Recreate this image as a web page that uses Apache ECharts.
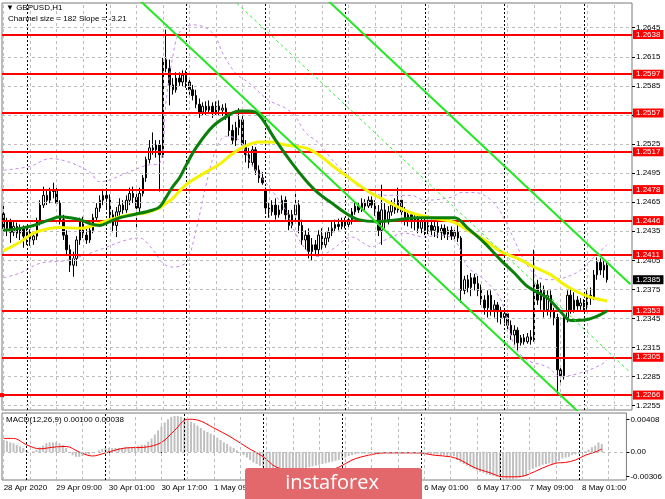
<!DOCTYPE html>
<html><head><meta charset="utf-8">
<script src="https://cdn.jsdelivr.net/npm/echarts@6/dist/echarts.min.js"></script>
<style>html,body{margin:0;padding:0;background:#fff}#c{width:665px;height:499px}</style>
</head><body><div id="c"></div>
<script>
// ---- categories (hourly bars, weekend skipped) ----
const dayList = ['28 Apr','29 Apr','30 Apr','1 May','4 May','5 May','6 May','7 May','8 May'];
const dayFirstHour = [17,0,0,0,0,0,0,0,0];
const dayLastHour  = [23,23,23,23,23,23,23,23,14];

// ---- candles ----
const opens = [1.2453,1.2438,1.2445,1.2434,1.2440,1.2433,1.2438,1.2430,1.2434,1.2426,
1.2430,1.2445,1.2462,1.2472,1.2467,1.2476,1.2478,1.2464,1.2447,1.2431,
1.2416,1.2400,1.2407,1.2426,1.2445,1.2431,1.2426,1.2436,1.2449,1.2459,
1.2467,1.2472,1.2469,1.2452,1.2441,1.2455,1.2462,1.2457,1.2467,1.2474,
1.2470,1.2459,1.2474,1.2490,1.2509,1.2521,1.2519,1.2524,1.2514,1.2612,
1.2603,1.2586,1.2581,1.2593,1.2589,1.2596,1.2589,1.2581,1.2575,1.2566,
1.2558,1.2564,1.2560,1.2564,1.2558,1.2564,1.2560,1.2562,1.2555,1.2539,
1.2529,1.2542,1.2550,1.2524,1.2514,1.2506,1.2519,1.2498,1.2490,1.2478,
1.2459,1.2455,1.2462,1.2452,1.2457,1.2467,1.2452,1.2441,1.2452,1.2462,
1.2441,1.2426,1.2431,1.2414,1.2421,1.2416,1.2431,1.2421,1.2428,1.2434,
1.2438,1.2442,1.2440,1.2445,1.2442,1.2447,1.2455,1.2461,1.2457,1.2464,
1.2461,1.2467,1.2462,1.2455,1.2436,1.2457,1.2447,1.2455,1.2462,1.2457,
1.2467,1.2455,1.2447,1.2452,1.2445,1.2449,1.2438,1.2445,1.2436,1.2441,
1.2436,1.2440,1.2434,1.2438,1.2432,1.2436,1.2430,1.2434,1.2428,1.2374,
1.2385,1.2377,1.2387,1.2381,1.2374,1.2364,1.2356,1.2369,1.2354,1.2359,
1.2352,1.2346,1.2350,1.2338,1.2328,1.2333,1.2320,1.2325,1.2321,1.2326,
1.2323,1.2380,1.2364,1.2374,1.2354,1.2369,1.2352,1.2346,1.2292,1.2286,
1.2346,1.2369,1.2354,1.2364,1.2358,1.2361,1.2357,1.2369,1.2366,1.2390,
1.2403,1.2395,1.2400];
const closes = [1.2438,1.2445,1.2434,1.2440,1.2433,1.2438,1.2430,1.2434,1.2426,1.2430,
1.2445,1.2462,1.2472,1.2467,1.2476,1.2478,1.2464,1.2447,1.2431,1.2416,
1.2400,1.2407,1.2426,1.2445,1.2431,1.2426,1.2436,1.2449,1.2459,1.2467,
1.2472,1.2469,1.2452,1.2441,1.2455,1.2462,1.2457,1.2467,1.2474,1.2470,
1.2459,1.2474,1.2490,1.2509,1.2521,1.2519,1.2524,1.2514,1.2612,1.2603,
1.2586,1.2581,1.2593,1.2589,1.2596,1.2589,1.2581,1.2575,1.2566,1.2558,
1.2564,1.2560,1.2564,1.2558,1.2564,1.2560,1.2562,1.2555,1.2539,1.2529,
1.2542,1.2550,1.2524,1.2514,1.2506,1.2519,1.2498,1.2490,1.2485,1.2459,
1.2455,1.2462,1.2452,1.2457,1.2467,1.2452,1.2441,1.2452,1.2462,1.2441,
1.2426,1.2431,1.2414,1.2421,1.2416,1.2431,1.2421,1.2428,1.2434,1.2438,
1.2442,1.2440,1.2445,1.2442,1.2447,1.2455,1.2461,1.2457,1.2464,1.2461,
1.2467,1.2462,1.2455,1.2436,1.2457,1.2447,1.2455,1.2462,1.2457,1.2467,
1.2455,1.2447,1.2452,1.2445,1.2449,1.2438,1.2445,1.2436,1.2441,1.2436,
1.2440,1.2434,1.2438,1.2432,1.2436,1.2430,1.2434,1.2428,1.2374,1.2385,
1.2377,1.2387,1.2381,1.2374,1.2364,1.2356,1.2369,1.2354,1.2359,1.2352,
1.2346,1.2350,1.2338,1.2328,1.2333,1.2320,1.2325,1.2321,1.2326,1.2323,
1.2380,1.2364,1.2374,1.2354,1.2369,1.2352,1.2346,1.2292,1.2286,1.2346,
1.2369,1.2354,1.2364,1.2358,1.2361,1.2357,1.2369,1.2366,1.2390,1.2403,
1.2395,1.2400,1.2385];
const highs = [1.2462,1.2449,1.2448,1.2445,1.2444,1.2442,1.2441,1.2438,1.2437,1.2434,
1.2449,1.2467,1.2481,1.2478,1.2480,1.2485,1.2482,1.2467,1.2452,1.2436,
1.2421,1.2414,1.2430,1.2449,1.2450,1.2438,1.2440,1.2453,1.2464,1.2472,
1.2478,1.2479,1.2473,1.2457,1.2460,1.2469,1.2467,1.2472,1.2480,1.2481,
1.2478,1.2480,1.2493,1.2512,1.2529,1.2537,1.2529,1.2529,1.2614,1.2643,
1.2612,1.2593,1.2599,1.2599,1.2601,1.2601,1.2593,1.2586,1.2581,1.2572,
1.2568,1.2569,1.2570,1.2568,1.2569,1.2570,1.2566,1.2567,1.2558,1.2545,
1.2548,1.2562,1.2555,1.2529,1.2521,1.2523,1.2522,1.2503,1.2496,1.2480,
1.2464,1.2467,1.2469,1.2462,1.2472,1.2471,1.2457,1.2457,1.2474,1.2467,
1.2447,1.2436,1.2438,1.2428,1.2426,1.2436,1.2438,1.2434,1.2439,1.2445,
1.2447,1.2448,1.2449,1.2449,1.2451,1.2459,1.2465,1.2464,1.2469,1.2468,
1.2471,1.2471,1.2467,1.2462,1.2483,1.2464,1.2461,1.2467,1.2469,1.2480,
1.2471,1.2460,1.2457,1.2455,1.2453,1.2453,1.2449,1.2449,1.2447,1.2447,
1.2445,1.2445,1.2442,1.2442,1.2440,1.2440,1.2438,1.2449,1.2430,1.2389,
1.2390,1.2392,1.2391,1.2389,1.2380,1.2369,1.2374,1.2374,1.2364,1.2362,
1.2357,1.2354,1.2354,1.2343,1.2338,1.2336,1.2328,1.2329,1.2330,1.2333,
1.2416,1.2385,1.2382,1.2379,1.2374,1.2374,1.2356,1.2350,1.2297,1.2349,
1.2374,1.2376,1.2372,1.2368,1.2366,1.2365,1.2374,1.2377,1.2395,1.2408,
1.2407,1.2406,1.2403];
const lows = [1.2434,1.2430,1.2423,1.2430,1.2428,1.2426,1.2418,1.2421,1.2420,1.2421,
1.2426,1.2441,1.2459,1.2462,1.2464,1.2469,1.2461,1.2442,1.2426,1.2410,
1.2393,1.2388,1.2399,1.2421,1.2428,1.2422,1.2423,1.2433,1.2446,1.2455,
1.2462,1.2457,1.2445,1.2434,1.2429,1.2451,1.2453,1.2454,1.2462,1.2464,
1.2439,1.2455,1.2471,1.2486,1.2505,1.2514,1.2511,1.2476,1.2511,1.2599,
1.2565,1.2576,1.2578,1.2585,1.2584,1.2583,1.2576,1.2570,1.2562,1.2552,
1.2554,1.2555,1.2556,1.2552,1.2555,1.2555,1.2554,1.2550,1.2533,1.2524,
1.2523,1.2534,1.2519,1.2506,1.2500,1.2502,1.2493,1.2485,1.2483,1.2455,
1.2449,1.2451,1.2447,1.2449,1.2453,1.2447,1.2436,1.2438,1.2445,1.2433,
1.2421,1.2416,1.2407,1.2405,1.2410,1.2409,1.2416,1.2418,1.2424,1.2430,
1.2434,1.2436,1.2437,1.2438,1.2439,1.2442,1.2452,1.2454,1.2455,1.2457,
1.2459,1.2459,1.2451,1.2430,1.2421,1.2438,1.2442,1.2451,1.2453,1.2454,
1.2451,1.2441,1.2440,1.2438,1.2436,1.2433,1.2433,1.2431,1.2432,1.2431,
1.2429,1.2428,1.2426,1.2428,1.2426,1.2426,1.2424,1.2424,1.2361,1.2370,
1.2372,1.2368,1.2374,1.2368,1.2359,1.2349,1.2346,1.2348,1.2346,1.2341,
1.2339,1.2340,1.2333,1.2323,1.2318,1.2312,1.2317,1.2318,1.2319,1.2318,
1.2321,1.2359,1.2354,1.2346,1.2348,1.2346,1.2338,1.2267,1.2279,1.2282,
1.2341,1.2350,1.2351,1.2354,1.2354,1.2352,1.2354,1.2359,1.2364,1.2385,
1.2390,1.2387,1.2382];

// ---- moving averages / bands: [bar index, price] ----
const yellowMA = [[0,1.2415],[5,1.2424],[9,1.2433],[14,1.2438],[17,1.2439],[23,1.2438],[27,1.2441],[32,1.2447],[38,1.2452],[43,1.2454],[47,1.2459],[49,1.2464],[51,1.2469],[55,1.2483],[61,1.2496],[65,1.2504],[69,1.2515],[73,1.2523],[77,1.2527],[81,1.2527],[85,1.2524],[91,1.2521],[95,1.2514],[99,1.2503],[103,1.2493],[107,1.2483],[111,1.2474],[115,1.2467],[119,1.2460],[123,1.2454],[129,1.2449],[136,1.2444],[140,1.2436],[145,1.2426],[150,1.2414],[155,1.2407],[160,1.2398],[165,1.2390],[170,1.2378],[176,1.2368],[182,1.2363]];
const greenMA = [[0,1.2436],[5,1.2438],[9,1.2441],[14,1.2447],[17,1.2450],[20,1.2449],[23,1.2447],[26,1.2443],[29,1.2441],[32,1.2445],[35,1.2449],[39,1.2452],[45,1.2457],[47,1.2460],[49,1.2470],[51,1.2481],[53,1.2490],[55,1.2503],[58,1.2521],[63,1.2543],[68,1.2555],[71,1.2559],[74,1.2559],[77,1.2555],[82,1.2529],[87,1.2505],[91,1.2488],[95,1.2474],[99,1.2464],[103,1.2454],[107,1.2447],[113,1.2445],[119,1.2447],[125,1.2449],[131,1.2449],[136,1.2449],[140,1.2438],[145,1.2423],[150,1.2405],[154,1.2392],[158,1.2378],[164,1.2366],[168,1.2352],[171,1.2343],[176,1.2344],[180,1.2349],[182,1.2353]];
const upperBand = [[0,1.2498],[8,1.2502],[14,1.2510],[20,1.2506],[26,1.2496],[29,1.2486],[37,1.2495],[43,1.2503],[47,1.2505],[49,1.2570],[51,1.2615],[53,1.2640],[57,1.2648],[61,1.2645],[64,1.2635],[66,1.2619],[70,1.2598],[74,1.2588],[80,1.2570],[85,1.2562],[88,1.2553],[91,1.2537],[95,1.2526],[99,1.2509],[103,1.2495],[107,1.2481],[111,1.2474],[117,1.2472],[123,1.2472],[127,1.2467],[135,1.2470],[138,1.2475],[142,1.2475],[146,1.2470],[150,1.2454],[154,1.2426],[157,1.2405],[161,1.2388],[165,1.2385],[170,1.2388],[174,1.2395],[177,1.2405],[182,1.2421]];
const lowerBand = [[0,1.2387],[5,1.2392],[11,1.2402],[19,1.2405],[29,1.2416],[37,1.2426],[41,1.2428],[45,1.2416],[48,1.2402],[51,1.2398],[55,1.2403],[58,1.2436],[61,1.2482],[64,1.2519],[67,1.2533],[71,1.2529],[75,1.2503],[80,1.2481],[85,1.2457],[88,1.2433],[92,1.2413],[95,1.2409],[99,1.2416],[105,1.2429],[111,1.2419],[115,1.2426],[121,1.2433],[127,1.2429],[131,1.2431],[136,1.2426],[140,1.2398],[145,1.2385],[150,1.2364],[154,1.2317],[158,1.2302],[164,1.2295],[168,1.2285],[174,1.2289],[180,1.2297],[182,1.2302]];

// ---- regression channel (anchors of the middle line, half width) ----
const channelStart = [40, 1.27676];
const channelEnd = [189, 1.22893];
const channelHalf = 0.0091;

// ---- horizontal levels and price axis ----
const levels = [1.2638,1.2597,1.2557,1.2517,1.2478,1.2446,1.2411,1.2353,1.2305,1.2266];
const selectedLevel = 1.2266;
const lastPrice = 1.2385;
const priceTicks = [1.2255,1.2285,1.2315,1.2345,1.2375,1.2405,1.2435,1.2465,1.2495,1.2525,1.2555,1.2585,1.2615,1.2645];

// ---- MACD(12,26,9) ----
const macdMain = [0.0015,0.0014,0.0012,0.0011,0.0009,0.0007,0.0005,0.0002,0.0000,0.0001,
0.0003,0.0006,0.0008,0.0011,0.0012,0.0012,0.0012,0.0011,0.0009,0.0005,
0.0000,-0.0004,-0.0006,-0.0006,-0.0005,-0.0004,-0.0003,-0.0001,0.0000,0.0002,
0.0004,0.0005,0.0005,0.0005,0.0005,0.0005,0.0005,0.0006,0.0006,0.0006,
0.0007,0.0008,0.0009,0.0009,0.0013,0.0017,0.0022,0.0027,0.0032,0.0037,
0.0041,0.0044,0.0045,0.0045,0.0044,0.0042,0.0040,0.0038,0.0036,0.0033,
0.0030,0.0027,0.0025,0.0023,0.0021,0.0018,0.0015,0.0012,0.0010,0.0007,
0.0005,0.0002,-0.0001,-0.0004,-0.0007,-0.0010,-0.0013,-0.0015,-0.0017,-0.0019,
-0.0020,-0.0020,-0.0020,-0.0021,-0.0021,-0.0021,-0.0021,-0.0021,-0.0021,-0.0021,
-0.0020,-0.0020,-0.0020,-0.0019,-0.0018,-0.0017,-0.0016,-0.0015,-0.0014,-0.0013,
-0.0012,-0.0011,-0.0010,-0.0008,-0.0007,-0.0005,-0.0004,-0.0003,-0.0002,-0.0002,
-0.0002,-0.0002,-0.0002,-0.0002,-0.0002,-0.0002,-0.0002,-0.0002,-0.0002,-0.0002,
-0.0002,-0.0002,-0.0002,-0.0002,-0.0002,-0.0002,-0.0002,-0.0002,-0.0002,-0.0003,
-0.0003,-0.0003,-0.0003,-0.0004,-0.0004,-0.0005,-0.0005,-0.0005,-0.0010,-0.0013,
-0.0015,-0.0017,-0.0019,-0.0021,-0.0023,-0.0025,-0.0026,-0.0028,-0.0029,-0.0030,
-0.0031,-0.0032,-0.0033,-0.0034,-0.0034,-0.0034,-0.0033,-0.0032,-0.0031,-0.0030,
-0.0023,-0.0021,-0.0019,-0.0018,-0.0016,-0.0015,-0.0014,-0.0015,-0.0014,-0.0011,
-0.0008,-0.0007,-0.0006,-0.0004,-0.0003,-0.0002,-0.0001,0.0001,0.0003,0.0006,
0.0008,0.0012,0.0010];
const macdSignal = [[0,0.0017],[3,0.0017],[7,0.0009],[11,0.0004],[15,0.0006],[19,0.0007],[23,0.0000],[27,-0.0005],[31,-0.0001],[37,0.0005],[43,0.0006],[48,0.0012],[52,0.0027],[56,0.0041],[59,0.0040],[64,0.0030],[69,0.0019],[74,0.0006],[79,-0.0006],[83,-0.0019],[89,-0.0023],[98,-0.0023],[102,-0.0019],[106,-0.0010],[111,-0.0004],[116,-0.0001],[121,-0.0001],[126,-0.0001],[131,-0.0004],[136,-0.0006],[139,-0.0010],[143,-0.0019],[148,-0.0026],[152,-0.0031],[156,-0.0031],[159,-0.0029],[164,-0.0020],[168,-0.0014],[171,-0.0013],[174,-0.0010],[177,-0.0004],[180,0.0000],[182,0.00038]];
const macdTicks = [0.00408, 0, -0.00306];

// ---------- build ----------
const cats = [];
dayList.forEach((d,k)=>{ for(let h=dayFirstHour[k]; h<=dayLastHour[k]; h++) cats.push(d+' '+String(h).padStart(2,'0')+':00'); });
const sepIdx = cats.map((c,i)=>c.endsWith(' 00:00') ? i : -1).filter(i=>i>=0);
const gridIdx = cats.map((c,i)=>i).filter(i=>i%8===0);
const candleData = opens.map((o,i)=>[o, closes[i], lows[i], highs[i]]);
const FONT = "'Liberation Sans', Arial, sans-serif";
const GRID_GRAY = '#bdbdbd';

function vLines(xi, yi){
  return [
    {type:'line', xAxisIndex:xi, yAxisIndex:yi, data:[], silent:true, z:1,
     markLine:{silent:true, symbol:'none', label:{show:false}, animation:false, precision:0,
       lineStyle:{color:GRID_GRAY, type:[3,3], width:1},
       data: gridIdx.map(i=>({xAxis:i}))}},
    {type:'line', xAxisIndex:xi, yAxisIndex:yi, data:[], silent:true, z:1,
     markLine:{silent:true, symbol:'none', label:{show:false}, animation:false, precision:0,
       lineStyle:{color:'#000', type:[2,2], width:1},
       data: sepIdx.map(i=>({xAxis:i}))}}
  ];
}
function chanLine(off, dashed){
  return {type:'line', xAxisIndex:0, yAxisIndex:0, symbol:'none', silent:true, z:6, clip:true,
    lineStyle: dashed ? {color:'#33ee33', width:1, type:[3,3]} : {color:'#22e822', width:2},
    data:[[channelStart[0], channelStart[1]+off],[channelEnd[0], channelEnd[1]+off]]};
}
function ind(data, color, width, dashed, z){
  return {type:'line', xAxisIndex:0, yAxisIndex:0, symbol:'none', silent:true, smooth:0.35, z:z,
    lineStyle:{color:color, width:width, type: dashed ? [3,3] : 'solid'}, data:data};
}

const option = {
  animation:false,
  backgroundColor:'#ffffff',
  textStyle:{fontFamily:FONT},
  grid:[
    {left:2, top:3, width:630, height:407, show:true, borderColor:'#7a7a7a', borderWidth:1},
    {left:2, top:413, width:630, height:67, show:true, borderColor:'#7a7a7a', borderWidth:1}
  ],
  xAxis:[
    {type:'category', gridIndex:0, data:cats, boundaryGap:true,
     axisLine:{show:false}, axisTick:{show:false}, axisLabel:{show:false}, splitLine:{show:false}},
    {type:'category', gridIndex:1, data:cats, boundaryGap:true,
     axisLine:{show:false},
     axisTick:{show:true, alignWithLabel:true, length:3, interval:(i)=>i%16===0, lineStyle:{color:'#000'}},
     axisLabel:{show:true, interval:(i)=>i%16===0, align:'left', margin:4, fontSize:8, color:'#000', fontFamily:FONT,
       formatter:(v,i)=> i===0 ? '28 Apr 2020' : v},
     splitLine:{show:false}}
  ],
  yAxis:[
    {type:'value', gridIndex:0, position:'right', min:1.22506, max:1.26705, scale:true,
     axisLine:{show:false},
     axisTick:{show:true, length:3, customValues:priceTicks, lineStyle:{color:'#000'}},
     axisLabel:{show:true, customValues:priceTicks, margin:4, fontSize:8, color:'#000', fontFamily:FONT,
       formatter:v=>v.toFixed(4)},
     splitLine:{show:false}},
    {type:'value', gridIndex:1, position:'right', min:-0.0035, max:0.00488,
     axisLine:{show:false},
     axisTick:{show:true, length:3, customValues:macdTicks, lineStyle:{color:'#000'}},
     axisLabel:{show:true, customValues:macdTicks, margin:4, fontSize:8, color:'#000', fontFamily:FONT,
       formatter:v=> v===0 ? '0.00' : v.toFixed(5)},
     splitLine:{show:false}}
  ],
  series:[
    ...vLines(0,0), ...vLines(1,1),
    {type:'line', xAxisIndex:0, yAxisIndex:0, data:[], silent:true, z:1,
     markLine:{silent:true, symbol:'none', label:{show:false}, animation:false, precision:5,
       lineStyle:{color:GRID_GRAY, type:[3,3], width:1},
       data: priceTicks.map(v=>({yAxis:v}))}},
    {type:'candlestick', xAxisIndex:0, yAxisIndex:0, data:candleData, barWidth:2, z:3, silent:true,
     itemStyle:{color:'#ffffff', color0:'#000000', borderColor:'#000000', borderColor0:'#000000', borderWidth:1}},
    ind(upperBand,'#c68ae8',1,true,4),
    ind(lowerBand,'#c68ae8',1,true,4),
    ind(yellowMA,'#f4f400',3,false,5),
    ind(greenMA,'#0a7f0a',3,false,5),
    chanLine(channelHalf,false), chanLine(0,true), chanLine(-channelHalf,false),
    {type:'line', xAxisIndex:0, yAxisIndex:0, data:[], silent:true, z:7,
     markLine:{silent:true, symbol:'none', animation:false, precision:4,
       lineStyle:{color:'#ff0000', width:2, type:'solid'},
       label:{show:true, position:'end', distance:1, formatter:p=>Number(p.value).toFixed(4),
         backgroundColor:'#ff0000', color:'#ffffff', fontSize:8, fontFamily:FONT, padding:[1,3,0,3]},
       data: levels.map(v=> v===selectedLevel ? {yAxis:v, symbol:['emptyRect','emptyRect'], symbolSize:4} : {yAxis:v})}},
    {type:'line', xAxisIndex:0, yAxisIndex:0, data:[], silent:true, z:8,
     markLine:{silent:true, symbol:'none', animation:false, precision:4,
       lineStyle:{color:'rgba(0,0,0,0)', width:1},
       label:{show:true, position:'end', distance:1, formatter:p=>Number(p.value).toFixed(4),
         backgroundColor:'#000000', color:'#ffffff', fontSize:8, fontFamily:FONT, padding:[1,3,0,3]},
       data:[{yAxis:lastPrice}]}},
    {type:'bar', xAxisIndex:1, yAxisIndex:1, data:macdMain, barWidth:2, silent:true, z:3,
     itemStyle:{color:'#c0c0c0'},
     markLine:{silent:true, symbol:'none', label:{show:false}, animation:false, precision:5,
       lineStyle:{color:GRID_GRAY, type:[3,3], width:1}, data:[{yAxis:0}]}},
    {type:'line', xAxisIndex:1, yAxisIndex:1, data:macdSignal, symbol:'none', smooth:0.35, silent:true, z:4,
     lineStyle:{color:'#ff0000', width:1}}
  ],
  graphic:[
    {type:'text', left:6, top:4, z:20, style:{text:'\u25BC GBPUSD,H1', fontSize:8, fontFamily:FONT, fill:'#000'}},
    {type:'text', left:8, top:15, z:20, style:{text:'Channel size = 182 Slope = -3.21', fontSize:8, fontFamily:FONT, fill:'#000'}},
    {type:'text', left:6, top:416, z:20, style:{text:'MACD(12,26,9) 0.00100 0.00038', fontSize:8, fontFamily:FONT, fill:'#000'}},
    {type:'rect', z:30, shape:{x:245, y:468, width:177, height:40, r:3}, style:{fill:'#e2686c'}},
    {type:'text', z:31, x:332, y:483, style:{text:'instaforex', fontSize:20, fontFamily:"'Open Sans', sans-serif", fill:'#ffffff', align:'center', verticalAlign:'middle'}}
  ]
};
const chart = echarts.init(document.getElementById('c'), null, {renderer:'canvas'});
chart.setOption(option);
</script>
</body></html>
